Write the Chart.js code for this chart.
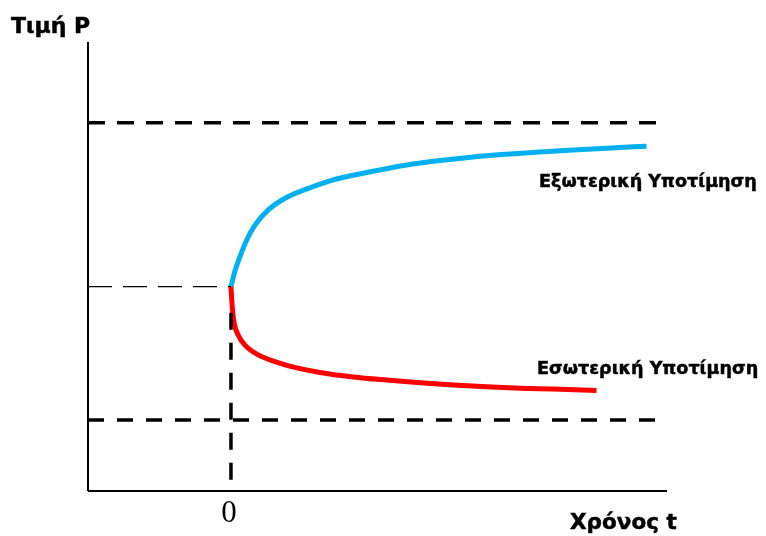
<!DOCTYPE html>
<html>
<head>
<meta charset="utf-8">
<script src="https://cdn.jsdelivr.net/npm/chart.js@4.4.1/dist/chart.umd.min.js"></script>
<style>
  html, body { margin: 0; padding: 0; background: #fff; }
  #wrap { width: 766px; height: 536px; position: relative; }
</style>
</head>
<body>
<div id="wrap"><canvas id="priceChart"></canvas></div>
<script>
// Χρόνος t (x) and Τιμή P (y) values
const blueT = [0, 0.028, 0.063, 0.110, 0.168, 0.261, 0.378, 0.541, 0.704, 0.995, 1.229, 1.462, 1.694, 1.928, 2.161, 2.394, 2.627, 2.907];
const blueP = [45.5, 49.0, 52.2, 55.9, 59.2, 62.6, 65.2, 67.4, 69.2, 71.2, 72.6, 73.6, 74.4, 75.0, 75.5, 75.95, 76.35, 76.8];
const redT = [0, 0.009, 0.023, 0.051, 0.098, 0.191, 0.308, 0.424, 0.622, 0.855, 1.089, 1.322, 1.555, 1.788, 2.021, 2.254, 2.557];
const redP = [45.5, 41.0, 37.3, 34.7, 32.5, 30.3, 28.8, 27.7, 26.4, 25.4, 24.7, 24.1, 23.6, 23.2, 22.9, 22.7, 22.4];

const tMin = -1, tMax = 3.05;
const pMin = 0, pMax = 100;
const upperBound = 82.0;
const lowerBound = 15.8;
const startPrice = 45.5;

const labels = {
    yTitle: 'Τιμή P',
    xTitle: 'Χρόνος t',
    origin: '0',
    blue: 'Εξωτερική Υποτίμηση',
    red: 'Εσωτερική Υποτίμηση'
};

function toPoints(xs, ys) {
    return xs.map((x, i) => ({ x: x, y: ys[i] }));
}

function segment(x0, y0, x1, y1, opts) {
    return Object.assign({
        data: [{ x: x0, y: y0 }, { x: x1, y: y1 }],
        borderColor: '#000',
        borderWidth: 2,
        pointRadius: 0,
        tension: 0,
        clip: false
    }, opts || {});
}

function boldText(c, text, x, y) {
    c.fillText(text, x, y);
    c.strokeText(text, x, y);
}

const textPlugin = {
    id: 'texts',
    afterDraw(chart) {
        const c = chart.ctx;
        const xs = chart.scales.x;
        c.save();
        c.fillStyle = '#000';
        c.strokeStyle = '#000';
        c.lineWidth = 0.5;
        c.textBaseline = 'alphabetic';
        c.textAlign = 'left';

        c.font = 'bold 22px "DejaVu Sans"';
        boldText(c, labels.yTitle, 11, 33);

        c.font = 'bold 17.6px "DejaVu Sans"';
        boldText(c, labels.blue, 539, 187);
        boldText(c, labels.red, 537, 374);

        c.font = 'bold 21.5px "DejaVu Sans"';
        boldText(c, labels.xTitle, 570, 529);

        c.font = '31px "Liberation Serif"';
        c.textAlign = 'center';
        c.fillText(labels.origin, xs.getPixelForValue(0) - 2, 522);
        c.restore();
    }
};

document.addEventListener('DOMContentLoaded', function() {
    const ctx = document.getElementById('priceChart');
    new Chart(ctx, {
        type: 'line',
        data: {
            datasets: [
                // axes
                segment(tMin, pMin, tMin, pMax, { borderWidth: 2 }),
                segment(tMin, pMin, tMax, pMin, { borderWidth: 2 }),
                // bounds
                segment(tMin, upperBound, tMax - 0.01, upperBound, { borderWidth: 3.5, borderDash: [17, 12] }),
                segment(tMin, lowerBound, tMax - 0.01, lowerBound, { borderWidth: 3.5, borderDash: [16, 13] }),
                // start level and time 0
                segment(tMin, startPrice, 0, startPrice, { borderWidth: 1.3, borderDash: [24, 11] }),
                segment(0, pMin + 2.5, 0, startPrice - 3, { borderWidth: 3.5, borderDash: [17, 13] }),
                {
                    label: labels.red,
                    data: toPoints(redT, redP),
                    borderColor: '#FF0000',
                    borderWidth: 5,
                    pointRadius: 0,
                    cubicInterpolationMode: 'monotone',
                    clip: false
                },
                {
                    label: labels.blue,
                    data: toPoints(blueT, blueP),
                    borderColor: '#00B0F0',
                    borderWidth: 5,
                    pointRadius: 0,
                    cubicInterpolationMode: 'monotone',
                    clip: false
                }
            ]
        },
        options: {
            responsive: true,
            maintainAspectRatio: false,
            animation: false,
            layout: { padding: { left: 88, right: 99, top: 42, bottom: 45 } },
            scales: {
                x: { type: 'linear', min: tMin, max: tMax, display: false },
                y: { type: 'linear', min: pMin, max: pMax, display: false }
            },
            plugins: {
                legend: { display: false },
                tooltip: { enabled: false }
            }
        },
        plugins: [textPlugin]
    });
});
</script>
</body>
</html>
